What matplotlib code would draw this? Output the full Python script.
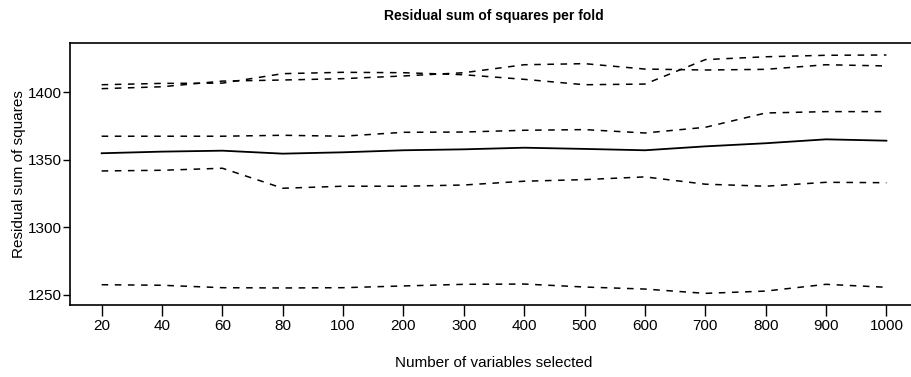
import matplotlib
matplotlib.use("Agg")
from matplotlib import pyplot as plt

n_vars = ["20", "40", "60", "80", "100", "200", "300", "400", "500",
          "600", "700", "800", "900", "1000"]

# residual sum of squares, one list per fold plus the overall curve
overall = [1354.9, 1356.1, 1356.8, 1354.6, 1355.6, 1357.1, 1357.8,
           1359.0, 1358.1, 1357.1, 1360.0, 1362.3, 1365.2, 1364.2]
fold_1 = [1405.6, 1406.6, 1406.8, 1413.8, 1414.8, 1414.5, 1413.0,
          1409.6, 1405.6, 1406.1, 1424.2, 1426.3, 1427.4, 1427.6]
fold_2 = [1402.7, 1404.1, 1408.3, 1409.1, 1410.1, 1412.1, 1414.5,
          1420.4, 1421.2, 1417.2, 1416.5, 1417.0, 1420.4, 1419.5]
fold_3 = [1367.5, 1367.5, 1367.5, 1368.2, 1367.5, 1370.4, 1370.6,
          1371.9, 1372.4, 1369.9, 1374.1, 1384.7, 1385.7, 1385.7]
fold_4 = [1341.8, 1342.3, 1343.8, 1329.0, 1330.5, 1330.5, 1331.4,
          1334.2, 1335.4, 1337.4, 1332.0, 1330.5, 1333.4, 1333.1]
fold_5 = [1257.6, 1257.2, 1255.4, 1255.2, 1255.4, 1256.7, 1257.9,
          1258.1, 1255.9, 1254.4, 1251.2, 1252.9, 1257.9, 1255.7]
folds = [fold_1, fold_2, fold_3, fold_4, fold_5]
y_ticks = [1250, 1300, 1350, 1400]

plt.rcParams['font.family'] = ['Liberation Sans', 'DejaVu Sans']

fig = plt.figure(figsize=(9.11, 3.77), dpi=100)
ax = fig.add_axes([0.0768, 0.191, 0.931, 0.6957])

xs = list(range(len(n_vars)))
for f in folds:
    ax.plot(xs, f, color='black', lw=1.1, linestyle=(0, (4.3, 4.3)))
ax.plot(xs, overall, color='black', lw=1.3)

ax.set_xlim(-0.525, len(n_vars) - 1 + 0.525)
ax.set_ylim(1242.6, 1436.7)
ax.set_xticks(xs)
ax.set_xticklabels(n_vars)
ax.set_yticks(y_ticks)
ax.tick_params(axis='x', length=8, width=1.0, labelsize=11, pad=2)
ax.tick_params(axis='y', length=5, width=1.0, labelsize=11, pad=1)
for s in ax.spines.values():
    s.set_linewidth(1.2)

ax.set_xlabel("Number of variables selected", fontsize=11, labelpad=17)
ax.set_ylabel("Residual sum of squares", fontsize=11, labelpad=1)
ax.set_title("Residual sum of squares per fold", fontsize=10,
             fontweight='bold', pad=16)

fig.savefig("out.png", dpi=100)
